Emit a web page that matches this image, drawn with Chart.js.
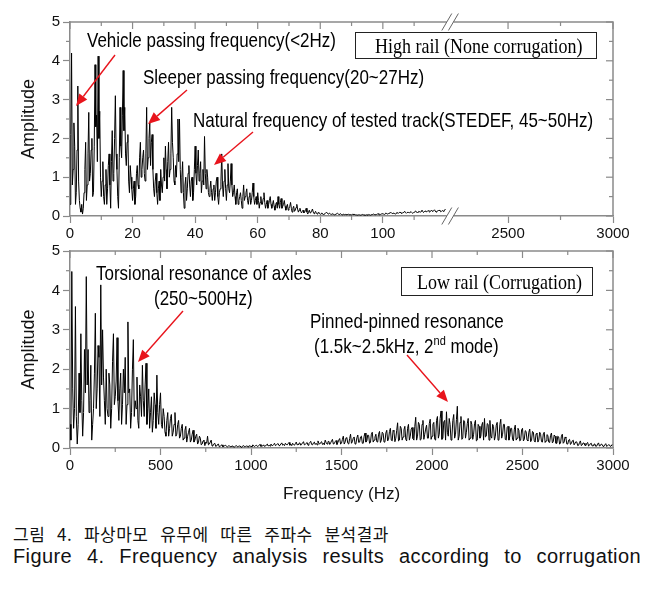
<!DOCTYPE html>
<html>
<head>
<meta charset="utf-8">
<script src="https://cdn.jsdelivr.net/npm/chart.js@4.4.1/dist/chart.umd.min.js"></script>
<style>
html,body{margin:0;padding:0;background:#fff;}
#wrap{position:relative;width:653px;height:595px;overflow:hidden;font-family:"Liberation Sans",Arial,sans-serif;color:#000;}
canvas{position:absolute;left:0;}
.ann{position:absolute;font-size:17px;line-height:20px;white-space:nowrap;transform:scaleY(1.15);transform-origin:left center;}
.box{position:absolute;border:1px solid #222;box-sizing:border-box;}
.box span{position:absolute;font-family:"Liberation Serif","Times New Roman",serif;font-size:18px;line-height:20px;white-space:nowrap;transform:scaleY(1.15);transform-origin:left center;}
.cap{position:absolute;left:13px;color:#111;white-space:nowrap;}
sup{font-size:11px;line-height:0;}
svg{position:absolute;left:0;top:0;}
</style>
</head>
<body>
<div id="wrap">
  <canvas id="topChart" width="653" height="245" style="top:0px"></canvas>
  <canvas id="lowChart" width="653" height="275" style="top:230px"></canvas>

  <div class="ann" style="left:87px;top:31px">Vehicle passing frequency(&lt;2Hz)</div>
  <div class="ann" style="left:143px;top:68px">Sleeper passing frequency(20~27Hz)</div>
  <div class="ann" style="left:193px;top:111px">Natural frequency of tested track(STEDEF, 45~50Hz)</div>
  <div class="box" style="left:355px;top:32px;width:242px;height:27px"><span style="left:19px;top:3px">High rail (None corrugation)</span></div>

  <div class="ann" style="left:96px;top:264px">Torsional resonance of axles</div>
  <div class="ann" style="left:154px;top:289px">(250~500Hz)</div>
  <div class="ann" style="left:310px;top:312px">Pinned-pinned resonance</div>
  <div class="ann" style="left:314px;top:337px">(1.5k~2.5kHz, 2<sup>nd</sup> mode)</div>
  <div class="box" style="left:401px;top:267px;width:192px;height:29px"><span style="left:15px;top:4px">Low rail (Corrugation)</span></div>

  <div class="cap" style="top:523px;font-family:'Noto Sans CJK KR',sans-serif;font-size:17px;line-height:21px;letter-spacing:0.5px"><span id="capKo">그림 4. 파상마모 유무에 따른 주파수 분석결과</span></div>
  <div class="cap" style="top:545px;font-family:'Liberation Sans',Arial,sans-serif;font-size:20px;line-height:22px;letter-spacing:0.4px"><span id="capEn">Figure 4. Frequency analysis results according to corrugation</span></div>
  <svg id="arrows" width="653" height="595"></svg>
</div>
<script>
// ---------- data ----------
// High rail spectrum, 0–120 Hz: samples at every 0.5 Hz ...
const topFreqStep = 0.5;
const topAmp = [
 0.3,4.2,1.2,1.8,0.6,3.35,0.4,0.1,0.05,0.6,
 1.9,0.8,2.67,1.1,2.0,0.6,3.9,2.6,4.12,2.7,
 0.5,1.4,0.3,1.2,0.7,1.6,0.2,2.2,1.1,3.1,
 1.2,0.2,2.8,1.5,3.75,2.8,1.3,2.1,0.6,1.0,
 0.4,0.9,0.5,1.3,0.7,1.9,1.2,1.7,0.9,2.8,
 1.5,2.4,1.9,1.2,0.5,1.1,0.3,0.9,1.2,0.6,
 1.5,1.8,0.7,1.9,1.2,2.8,1.5,0.8,1.0,2.5,
 2.5,0.6,1.4,0.2,1.0,0.7,1.3,0.5,1.0,0.6,
 1.8,0.8,1.7,1.1,0.6,1.2,2.05,0.7,1.0,0.5,
 0.9,0.4,0.8,0.6,1.0,0.3,0.7,1.6,0.5,1.2,
 0.4,1.35,0.6,1.35,0.5,0.8,0.3,0.7,0.4,0.6,
 0.2,0.8,0.5,0.7,0.3,0.6,0.4,0.85,0.3,0.5,
 0.6,0.2,0.5,0.3,0.6,0.2,0.4,0.3,0.5,0.2,
 0.4,0.15,0.35,0.5,0.2,0.45,0.25,0.4,0.15,0.3,
 0.2,0.35,0.1,0.25,0.15,0.3,0.1,0.2,0.08,0.15,
 0.1,0.2,0.05,0.15,0.1,0.18,0.06,0.12,0.05,0.1,
 0.04,0.08,0.03,0.06,0.1,0.05,0.07,0.04,0.06,0.03,
 0.05,0.07,0.04,0.06,0.03,0.05,0.04,0.03,0.05,0.04,
 0.03,0.05,0.04,0.03,0.02,0.03,0.02,0.04,0.03,0.02,
 0.03,0.04,0.02,0.03,0.05,0.03,0.04,0.06,0.03,0.05,
 0.06,0.04,0.08,0.05,0.07,0.1,0.06,0.08,0.05,0.09,
 0.07,0.1,0.06,0.09,0.12,0.07,0.1,0.08,0.11,0.07,
 0.1,0.13,0.08,0.12,0.1,0.15,0.09,0.13,0.11,0.14,
 0.1,0.15,0.12,0.16,0.1,0.13,0.15,0.11,0.14,0.12,
 0.18
];
// ... and the samples half-way between them (0.25, 0.75, ... Hz)
const topAmpMid = [
 2.1,0.8,2.4,0.3,1.7,0.9,0.2,0.3,0.2,1.2,
 0.4,1.6,0.9,1.7,0.5,1.8,2.3,1.4,2.0,1.0,
 0.9,0.5,0.8,0.3,1.3,0.8,1.4,0.9,2.0,1.6,
 0.5,1.5,1.8,2.6,2.2,1.6,1.9,0.9,1.3,0.7,
 0.7,0.3,1.1,0.8,1.5,1.0,1.5,1.1,1.6,1.2,
 2.0,1.3,2.1,0.7,0.9,0.6,0.7,0.4,0.8,1.0,
 0.9,1.2,1.4,1.0,1.6,1.9,0.9,1.3,1.6,1.4,
 1.2,1.0,0.6,0.8,0.4,1.1,0.8,0.9,0.4,1.2,
 1.1,1.3,0.9,1.4,0.9,0.8,1.1,1.2,0.6,0.7,
 0.6,0.7,0.4,0.9,0.5,0.6,0.9,0.8,0.9,0.7,
 0.8,0.7,0.9,0.8,0.6,0.5,0.6,0.3,0.5,0.4,
 0.5,0.4,0.6,0.4,0.5,0.3,0.6,0.5,0.4,0.3,
 0.4,0.35,0.3,0.45,0.35,0.3,0.2,0.4,0.3,0.3,
 0.25,0.3,0.2,0.3,0.35,0.2,0.3,0.25,0.25,0.15,
 0.25,0.2,0.2,0.12,0.22,0.18,0.15,0.12,0.12,0.08,
 0.14,0.1,0.1,0.08,0.13,0.1,0.09,0.07,0.08,0.06,
 0.06,0.05,0.05,0.08,0.07,0.06,0.05,0.05,0.04,0.04,
 0.06,0.05,0.05,0.04,0.04,0.03,0.04,0.04,0.03,0.03,
 0.04,0.03,0.03,0.02,0.03,0.02,0.03,0.03,0.02,0.03,
 0.02,0.03,0.03,0.04,0.04,0.03,0.05,0.04,0.04,0.06,
 0.05,0.06,0.06,0.06,0.08,0.08,0.07,0.06,0.07,0.08,
 0.09,0.08,0.08,0.1,0.09,0.09,0.09,0.1,0.09,0.08,
 0.11,0.1,0.1,0.11,0.12,0.12,0.11,0.12,0.12,0.12,
 0.12,0.13,0.14,0.13,0.12,0.14,0.13,0.12,0.13,0.15
];
// Low rail spectrum, 0–3000 Hz: samples at every 10 Hz ...
const lowFreqStep = 10;
const lowAmp = [
 0.6,4.48,0.5,3.59,0.1,1.9,2.9,0.3,2.5,4.35,
 2.5,1.2,0.2,1.0,3.42,1.5,2.3,4.14,3.0,1.2,
 2.0,0.8,1.6,1.0,2.9,1.3,2.8,0.7,1.9,1.1,
 1.4,0.6,3.2,1.5,0.9,2.75,1.2,1.8,0.5,1.3,
 2.1,0.8,2.15,1.0,0.5,1.3,0.7,1.1,1.85,0.6,
 1.4,0.5,0.8,0.3,0.9,0.5,0.85,0.4,0.9,0.35,
 0.7,0.3,0.6,0.25,0.55,0.3,0.5,0.2,0.45,0.2,
 0.35,0.15,0.25,0.1,0.2,0.15,0.3,0.1,0.2,0.08,
 0.12,0.05,0.1,0.04,0.08,0.05,0.07,0.03,0.06,0.04,
 0.05,0.03,0.06,0.04,0.05,0.03,0.06,0.04,0.05,0.06,
 0.05,0.08,0.04,0.07,0.05,0.09,0.06,0.08,0.05,0.1,
 0.07,0.1,0.06,0.12,0.08,0.11,0.07,0.13,0.09,0.12,
 0.08,0.14,0.1,0.12,0.07,0.15,0.09,0.13,0.1,0.16,
 0.09,0.14,0.11,0.17,0.08,0.15,0.12,0.18,0.1,0.16,
 0.12,0.2,0.1,0.17,0.13,0.22,0.11,0.19,0.14,0.24,
 0.12,0.3,0.15,0.25,0.1,0.35,0.16,0.28,0.12,0.33,
 0.15,0.3,0.12,0.38,0.18,0.32,0.14,0.4,0.2,0.35,
 0.15,0.42,0.2,0.37,0.16,0.45,0.22,0.5,0.18,0.42,
 0.25,0.64,0.2,0.5,0.28,0.55,0.18,0.6,0.3,0.52,
 0.2,0.78,0.3,0.6,0.22,0.7,0.35,0.58,0.25,0.73,
 0.3,0.65,0.2,0.8,0.35,0.94,0.25,0.7,0.92,0.3,
 0.6,0.28,0.85,0.35,1.06,0.3,0.8,0.25,0.68,0.4,
 0.75,0.25,0.6,0.35,0.7,0.2,0.55,0.3,0.65,0.75,
 0.3,0.6,0.7,0.25,0.55,0.3,0.65,0.22,0.73,0.35,
 0.6,0.2,0.55,0.3,0.5,0.18,0.58,0.25,0.45,0.2,
 0.5,0.22,0.42,0.18,0.48,0.2,0.4,0.15,0.38,0.2,
 0.35,0.15,0.4,0.18,0.32,0.14,0.38,0.16,0.3,0.12,
 0.28,0.12,0.35,0.15,0.25,0.1,0.22,0.12,0.2,0.08,
 0.15,0.07,0.18,0.08,0.12,0.06,0.14,0.07,0.12,0.06,
 0.1,0.05,0.13,0.06,0.09,0.05,0.11,0.06,0.08,0.05,
 0.07
];
// ... and the samples half-way between them (5, 15, ... Hz)
const lowAmpMid = [
 0.2,1.5,1.0,0.8,0.6,0.9,1.2,0.9,1.4,1.6,
 0.9,2.1,0.6,1.9,1.0,2.6,0.8,1.6,1.8,0.6,
 1.0,1.9,0.5,2.2,1.1,1.7,1.2,1.5,0.6,2.0,
 2.3,1.1,1.4,0.5,2.0,0.8,1.0,0.7,1.6,0.8,
 1.2,1.6,0.6,1.5,0.9,0.4,1.4,0.5,0.9,1.1,
 0.6,1.0,0.4,0.7,0.3,0.75,0.3,0.6,0.3,0.6,
 0.25,0.5,0.2,0.45,0.15,0.4,0.15,0.35,0.15,0.3,
 0.1,0.3,0.08,0.18,0.06,0.12,0.08,0.15,0.05,0.1,
 0.04,0.09,0.03,0.07,0.03,0.06,0.04,0.05,0.03,0.05,
 0.02,0.05,0.03,0.05,0.02,0.05,0.03,0.05,0.02,0.04,
 0.03,0.05,0.06,0.04,0.07,0.04,0.05,0.04,0.08,0.05,
 0.05,0.07,0.09,0.06,0.1,0.06,0.1,0.07,0.06,0.09,
 0.11,0.07,0.06,0.09,0.11,0.08,0.12,0.07,0.13,0.08,
 0.12,0.07,0.14,0.09,0.13,0.09,0.08,0.12,0.14,0.09,
 0.08,0.14,0.16,0.09,0.18,0.1,0.16,0.09,0.2,0.1,
 0.22,0.1,0.26,0.12,0.24,0.12,0.25,0.1,0.26,0.14,
 0.28,0.12,0.3,0.15,0.33,0.12,0.35,0.15,0.28,0.16,
 0.35,0.14,0.4,0.15,0.38,0.18,0.42,0.2,0.45,0.16,
 0.45,0.18,0.55,0.2,0.46,0.22,0.5,0.2,0.48,0.24,
 0.55,0.2,0.65,0.2,0.6,0.22,0.48,0.25,0.62,0.22,
 0.6,0.22,0.7,0.25,0.75,0.22,0.66,0.2,0.4,0.75,
 0.2,0.7,0.25,0.72,0.2,0.65,0.22,0.7,0.25,0.62,
 0.2,0.68,0.22,0.62,0.18,0.6,0.25,0.58,0.2,0.28,
 0.62,0.2,0.3,0.6,0.2,0.58,0.2,0.6,0.25,0.6,
 0.22,0.52,0.2,0.5,0.22,0.48,0.2,0.5,0.18,0.46,
 0.18,0.44,0.2,0.4,0.16,0.42,0.18,0.36,0.15,0.4,
 0.16,0.36,0.14,0.34,0.15,0.32,0.13,0.33,0.12,0.3,
 0.1,0.3,0.12,0.28,0.1,0.2,0.09,0.18,0.08,0.16,
 0.06,0.14,0.06,0.13,0.07,0.12,0.05,0.11,0.05,0.1,
 0.04,0.1,0.05,0.1,0.04,0.08,0.04,0.08,0.04,0.09
];
const yTicks = [0,1,2,3,4,5];
const yMinor = [0.5,1.5,2.5,3.5,4.5];
const topTickHz = [0,20,40,60,80,100,2500,3000];
const topTickLabels = ['0','20','40','60','80','100','2500','3000'];
const topMinorHz = [10,30,50,70,90,110,2750];
const lowTickHz = [0,500,1000,1500,2000,2500,3000];
const lowTickLabels = ['0','500','1000','1500','2000','2500','3000'];
const lowMinorHz = [250,750,1250,1750,2250,2750];

// ---------- broken top axis: 0–121.5 Hz, then 2224–3000 Hz compressed ----------
const BREAK_END = 121.5, BREAK_RESUME = 2224, SEG2_RATIO = 0.0671;
const toVirtual = f => f <= BREAK_END ? f : BREAK_END + (f - BREAK_RESUME) * SEG2_RATIO;

const AXIS_GRAY = '#8a8a8a';
const FONT = 'Liberation Sans';

const framePlugin = {
  id: 'frame',
  afterDraw(chart, args, opts) {
    const {ctx, chartArea: a} = chart;
    const x = chart.scales.x, y = chart.scales.y;
    const line = (x1, y1, x2, y2) => { ctx.beginPath(); ctx.moveTo(x1, y1); ctx.lineTo(x2, y2); ctx.stroke(); };
    ctx.save();
    ctx.strokeStyle = AXIS_GRAY;
    ctx.lineWidth = 1.5;
    ctx.beginPath(); ctx.moveTo(a.left, a.top); ctx.lineTo(a.right, a.top); ctx.lineTo(a.right, a.bottom); ctx.stroke();
    ctx.lineWidth = 1.2;
    opts.majorX.forEach(v => { const px = x.getPixelForValue(v); line(px, a.top, px, a.top + 7); });
    opts.minorX.forEach(v => { const px = x.getPixelForValue(v); line(px, a.top, px, a.top + 4); line(px, a.bottom, px, a.bottom + 4); });
    yTicks.forEach(v => { const py = y.getPixelForValue(v); line(a.right, py, a.right - 7, py); });
    yMinor.forEach(v => { const py = y.getPixelForValue(v); line(a.right, py, a.right - 4, py); line(a.left, py, a.left - 4, py); });
    if (opts.breakAt != null) {
      const bx = x.getPixelForValue(opts.breakAt);
      [a.top, a.bottom].forEach(yy => {
        ctx.fillStyle = '#fff';
        ctx.fillRect(bx - 3.3, yy - 1.6, 6.6, 3.2);
        ctx.strokeStyle = '#666';
        ctx.lineWidth = 1;
        [-3.3, 3.3].forEach(dx => line(bx + dx - 5, yy + 8.5, bx + dx + 5, yy - 8.5));
      });
    }
    ctx.restore();
  }
};

function makeChart(canvasId, points, xMax, tickVals, tickLabels, minorVals, pad, xHeight, withTitle, breakAt) {
  return new Chart(document.getElementById(canvasId), {
    type: 'line',
    data: { datasets: [{ data: points, borderColor: '#000', borderWidth: 1, pointRadius: 0, tension: 0, fill: false }] },
    options: {
      responsive: false, animation: false, events: [],
      layout: { padding: pad },
      plugins: { legend: { display: false }, tooltip: { enabled: false },
                 frame: { majorX: tickVals, minorX: minorVals, breakAt: breakAt } },
      scales: {
        x: {
          type: 'linear', min: 0, max: xMax,
          afterFit(s) { s.height = xHeight; },
          afterBuildTicks(s) { s.ticks = tickVals.map(v => ({ value: v })); },
          ticks: { autoSkip: false, maxRotation: 0, minRotation: 0, padding: 2, color: '#111',
                   font: { family: FONT, size: 15 }, callback: (v, i) => tickLabels[i] },
          grid: { display: true, drawOnChartArea: false, drawTicks: true, tickLength: 7, tickColor: AXIS_GRAY, tickWidth: 1.2 },
          border: { display: true, color: AXIS_GRAY, width: 1.5 },
          title: { display: withTitle, text: 'Frequency (Hz)', color: '#111', font: { family: FONT, size: 17 }, padding: { top: 0, bottom: 0 } }
        },
        y: {
          min: 0, max: 5,
          afterFit(s) { s.width = 70; },
          afterBuildTicks(s) { s.ticks = yTicks.map(v => ({ value: v })); },
          ticks: { padding: 3, color: '#111', font: { family: FONT, size: 15 }, callback: v => String(v) },
          grid: { display: true, drawOnChartArea: false, drawTicks: true, tickLength: 7, tickColor: AXIS_GRAY, tickWidth: 1.2 },
          border: { display: true, color: AXIS_GRAY, width: 1.5 },
          title: { display: true, text: 'Amplitude', color: '#111', font: { family: FONT, size: 18 }, padding: { top: 18, bottom: 0 } }
        }
      }
    },
    plugins: [framePlugin]
  });
}

function interleave(main, mid, step, map) {
  const pts = [];
  main.forEach((a, i) => {
    pts.push({ x: map(i * step), y: a });
    if (i < mid.length) pts.push({ x: map(i * step + step / 2), y: mid[i] });
  });
  return pts;
}
const topPoints = interleave(topAmp, topAmpMid, topFreqStep, toVirtual);
const lowPoints = interleave(lowAmp, lowAmpMid, lowFreqStep, f => f);

makeChart('topChart', topPoints, toVirtual(3000), topTickHz.map(toVirtual), topTickLabels,
          topMinorHz.map(toVirtual), { top: 22, right: 40, left: 0, bottom: 0 }, 29, false, BREAK_END);
makeChart('lowChart', lowPoints, 3000, lowTickHz, lowTickLabels,
          lowMinorHz, { top: 21, right: 40, left: 0, bottom: 0 }, 57, true, null);

// ---------- caption lines: spread words to the printed line widths ----------
function fitLine(id, targetWidth) {
  const el = document.getElementById(id);
  const gaps = (el.textContent.match(/ /g) || []).length;
  const w = el.getBoundingClientRect().width;
  if (gaps && targetWidth > w) el.style.wordSpacing = ((targetWidth - w) / gaps) + 'px';
}
fitLine('capKo', 376);
fitLine('capEn', 628);

// ---------- red annotation arrows (page pixels) ----------
const arrowSegments = [[115,55,76,106],[187,90,148,124],[253,132,214,165],[183,311,138,362],[407,355,448,402]];
const svg = document.getElementById('arrows');
const NS = 'http://www.w3.org/2000/svg';
arrowSegments.forEach(([x1, y1, x2, y2]) => {
  const dx = x2 - x1, dy = y2 - y1, len = Math.hypot(dx, dy);
  const ux = dx / len, uy = dy / len, hl = 12, hw = 5;
  const bx = x2 - ux * hl, by = y2 - uy * hl;
  const l = document.createElementNS(NS, 'line');
  l.setAttribute('x1', x1); l.setAttribute('y1', y1); l.setAttribute('x2', bx); l.setAttribute('y2', by);
  l.setAttribute('stroke', '#e8141c'); l.setAttribute('stroke-width', '1.4');
  svg.appendChild(l);
  const p = document.createElementNS(NS, 'polygon');
  p.setAttribute('points', `${x2},${y2} ${bx - uy * hw},${by + ux * hw} ${bx + uy * hw},${by - ux * hw}`);
  p.setAttribute('fill', '#e8141c');
  svg.appendChild(p);
});
</script>
</body>
</html>
